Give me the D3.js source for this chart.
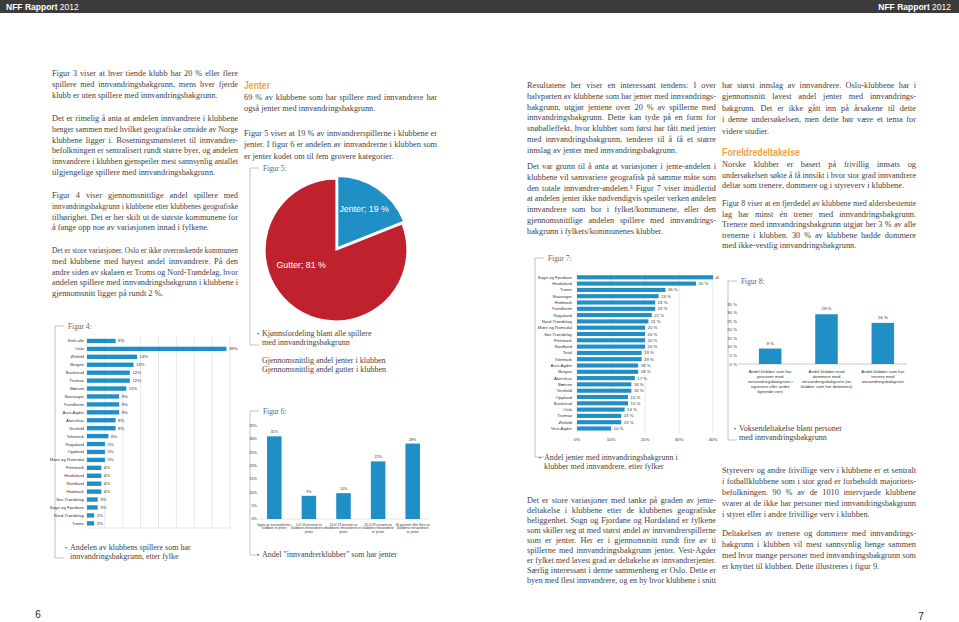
<!DOCTYPE html>
<html>
<head>
<meta charset="utf-8">
<script src="https://cdn.jsdelivr.net/npm/d3@7"></script>
<style>
  body { margin: 0; background: #fff; }
  svg { display: block; }
</style>
</head>
<body>
<svg id="page" width="959" height="622"></svg>
<script>
// ---- chart data ----
const fig4Cats = ["Snitt alle", "Oslo", "Østfold", "Bergen", "Buskerud", "Tromsø", "Bærum", "Stavanger",
  "Trondheim", "Aust-Agder", "Akershus", "Vestfold", "Telemark", "Rogaland", "Oppland", "Møre og Romsdal",
  "Finnmark", "Hordaland", "Nordland", "Hedmark", "Sør-Trøndelag", "Sogn og Fjordane", "Nord-Trøndelag", "Troms"];
const fig4Vals = [8, 39, 14, 13, 12, 12, 11, 9, 9, 9, 8, 8, 6, 5, 5, 5, 4, 4, 4, 4, 3, 3, 2, 2];
const fig4Grid = [0, 5, 10, 15, 20, 25, 30, 35, 40];

const pieLabels = ["Jenter", "Gutter"];
const pieVals = [19, 81];

const fig6Cats = [
  ["Ingen av innvandrerne i", "klubben er jenter"],
  ["1 til 10 prosent av", "klubbens innvandrere er", "jenter"],
  ["10 til 19 prosent av", "klubbens innvandrere er", "jenter"],
  ["20 til 29 prosent av", "klubbens innvandrere", "er jenter"],
  ["30 prosent eller flere av", "klubbens innvandrere", "er jenter"]
];
const fig6Vals = [31, 8.7, 9.7, 21.6, 28.3];
const fig6Ticks = [0, 5, 10, 15, 20, 25, 30, 35];

const fig7Cats = ["Sogn og Fjordane", "Hordaland", "Troms", "Stavanger", "Hedmark", "Trondheim", "Rogaland",
  "Nord-Trøndelag", "Møre og Romsdal", "Sør-Trøndelag", "Finnmark", "Nordland", "Total", "Telemark",
  "Aust-Agder", "Bergen", "Akershus", "Bærum", "Vestfold", "Oppland", "Buskerud", "Oslo", "Tromsø",
  "Østfold", "Vest-Agder"];
const fig7Vals = [40, 35, 26, 24, 23, 23, 22, 21, 20, 20, 20, 20, 19, 19, 18, 18, 17, 16, 16, 15, 15, 14, 13, 13, 10];
const fig7Ticks = [0, 10, 20, 30, 40];

const fig8Cats = [
  ["Andel klubber som har", "personer med", "innvandringsbakgrunn i", "styreverv eller andre", "lignende verv"],
  ["Andel klubber med", "dommere med", "innvandringsbakgrunn (av", "klubber som har dommere)"],
  ["Andel klubber som har", "trenere med", "innvandringsbakgrunn"]
];
const fig8Vals = [9, 29, 24];
const fig8Ticks = [0, 5, 10, 15, 20, 25, 30, 35];

// ---- body text ----
const col1 = [
  ["Figur 3 viser at hver tiende klubb har 20 % eller flere",
   "spillere med innvandringsbakgrunn, mens hver fjerde",
   "klubb er uten spillere med innvandringsbakgrunn."],
  ["Det er rimelig å anta at andelen innvandrere i klubbene",
   "henger sammen med hvilket geografiske område av Norge",
   "klubbene ligger i. Bosetningsmønsteret til innvandrer-",
   "befolkningen er sentralisert rundt større byer, og andelen",
   "innvandrere i klubben gjenspeiler mest sannsynlig antallet",
   "tilgjengelige spillere med innvandringsbakgrunn."],
  ["Figur 4 viser gjennomsnittlige andel spillere med",
   "innvandringsbakgrunn i klubbene etter klubbenes geografiske",
   "tilhørighet. Det er her skilt ut de største kommunene for",
   "å fange opp noe av variasjonen innad i fylkene."],
  ["Det er store variasjoner. Oslo er ikke overraskende kommunen",
   "med klubbene med høyest andel innvandrere. På den",
   "andre siden av skalaen er Troms og Nord-Trøndelag, hvor",
   "andelen spillere med innvandringsbakgrunn i klubbene i",
   "gjennomsnitt ligger på rundt 2 %."]
];
const col2 = [
  ["69 % av klubbene som har spillere med innvandrere har",
   "også jenter med innvandringsbakgrunn."],
  ["Figur 5 viser at 19 % av innvandrerspillerne i klubbene er",
   "jenter. I figur 6 er andelen av innvandrerne i klubben som",
   "er jenter kodet om til fem grovere kategorier."]
];
const col3 = [
  ["Resultatene her viser en interessant tendens: I over",
   "halvparten av klubbene som har jenter med innvandrings-",
   "bakgrunn, utgjør jentene over 20 % av spillerne med",
   "innvandringsbakgrunn. Dette kan tyde på en form for",
   "snøballeffekt, hvor klubber som først har fått med jenter",
   "med innvandringsbakgrunn, tenderer til å få et større",
   "innslag av jenter med innvandringsbakgrunn."],
  ["Det var grunn til å anta at variasjoner i jente-andelen i",
   "klubbene vil samvariere geografisk på samme måte som",
   "den totale innvandrer-andelen.³ Figur 7 viser imidlertid",
   "at andelen jenter ikke nødvendigvis speiler verken andelen",
   "innvandrere som bor i fylket/kommunene, eller den",
   "gjennomsnittlige andelen spillere med innvandrings-",
   "bakgrunn i fylkets/kommunenes klubber."]
];
const col3b = [
  ["Det er store variasjoner med tanke på graden av jente-",
   "deltakelse i klubbene etter de klubbenes geografiske",
   "beliggenhet. Sogn og Fjordane og Hordaland er fylkene",
   "som skiller seg ut med størst andel av innvandrerspillerne",
   "som er jenter. Her er i gjennomsnitt rundt fire av ti",
   "spillerne med innvandringsbakgrunn jenter. Vest-Agder",
   "er fylket med lavest grad av deltakelse av innvandrerjenter.",
   "Særlig interessant i denne sammenheng er Oslo. Dette er",
   "byen med flest innvandrere, og en by hvor klubbene i snitt"]
];
const col4 = [
  ["har størst innslag av innvandrere. Oslo-klubbene har i",
   "gjennomsnitt lavest andel jenter med innvandrings-",
   "bakgrunn. Det er ikke gått inn på årsakene til dette",
   "i denne undersøkelsen, men dette bør være et tema for",
   "videre studier."]
];
const col4b = [
  ["Norske klubber er basert på frivillig innsats og",
   "undersøkelsen søkte å få innsikt i hvor stor grad innvandrere",
   "deltar som trenere, dommere og i styreverv i klubbene."],
  ["Figur 8 viser at en fjerdedel av klubbene med aldersbestemte",
   "lag har minst én trener med innvandringsbakgrunn.",
   "Trenere med innvandringsbakgrunn utgjør her 3 % av alle",
   "trenerne i klubben. 30 % av klubbene hadde dommere",
   "med ikke-vestlig innvandringsbakgrunn."]
];
const col4c = [
  ["Styreverv og andre frivillige verv i klubbene er et sentralt",
   "i fotballklubbene som i stor grad er forbeholdt majoritets-",
   "befolkningen. 90 % av de 1010 intervjuede klubbene",
   "svarer at de ikke har personer med innvandringsbakgrunn",
   "i styret eller i andre frivillige verv i klubben."],
  ["Deltakelsen av trenere og dommere med innvandrings-",
   "bakgrunn i klubben vil mest sannsynlig henge sammen",
   "med hvor mange personer med innvandringsbakgrunn som",
   "er knyttet til klubben. Dette illustreres i figur 9."]
];

// ---- setup ----
const svg = d3.select("#page");
const serif = "'Liberation Serif', 'DejaVu Serif', serif";
const sans = "'Liberation Sans', Arial, sans-serif";
const BLUE = "#1f8fc6", RED = "#c0222d", ORANGE = "#f2a33a", INK = "#3f3f3f";

// justified paragraph lines
function para(x, y0, w, lines, lh) {
  lines.forEach((s, i) => {
    const t = svg.append("text")
      .attr("x", x).attr("y", y0 + i * lh + 2.9)
      .attr("font-family", serif).attr("font-size", 8.3).attr("fill", INK)
      .text(s);
    const len = t.node().getComputedTextLength();
    const last = i === lines.length - 1;
    if (len > w) {
      t.attr("textLength", w).attr("lengthAdjust", "spacingAndGlyphs");
    } else if (!last) {
      const n = (s.match(/ /g) || []).length;
      if (n) t.attr("word-spacing", (w - len) / n);
    }
  });
}

function paras(x, starts, w, list, lh) {
  list.forEach((p, i) => para(x, starts[i], w, p, lh));
}

function heading(x, y, s, w) {
  svg.append("text").attr("x", x).attr("y", y + 3.6)
    .attr("font-family", sans).attr("font-weight", "bold").attr("font-size", 10)
    .attr("fill", ORANGE).attr("textLength", w).attr("lengthAdjust", "spacingAndGlyphs")
    .text(s);
}

function bracket(x, yTop, yBot, label) {
  svg.append("path")
    .attr("d", `M${x + 9},${yTop}H${x}V${yBot}H${x + 9}`)
    .attr("fill", "none").attr("stroke", "#9a9a9a").attr("stroke-width", 0.6);
  svg.append("text").attr("x", x + 13).attr("y", yTop + 2.5)
    .attr("font-family", serif).attr("font-size", 7.4).attr("fill", "#666").text(label);
}

function caption(x, y, lines, bullet = true) {
  lines.forEach((s, i) => {
    svg.append("text").attr("x", x + 4).attr("y", y + i * 9 + 2.8)
      .attr("font-family", serif).attr("font-size", 8).attr("fill", INK).text(s);
  });
  if (bullet) svg.append("text").attr("x", x - 1).attr("y", y + 2.8)
    .attr("font-family", serif).attr("font-size", 6).attr("fill", INK).text("•");
}

// ---- header and page numbers ----
svg.append("rect").attr("x", 0).attr("y", 0).attr("width", 959).attr("height", 13).attr("fill", "#3b3b3b");
[[6, "start"], [951, "end"]].forEach(([x, a]) => {
  const t = svg.append("text").attr("x", x).attr("y", 9.6).attr("text-anchor", a)
    .attr("font-family", sans).attr("font-size", 8.5).attr("fill", "#fff");
  t.append("tspan").attr("font-weight", "bold").text("NFF Rapport");
  t.append("tspan").text(" 2012");
});
svg.append("text").attr("x", 38).attr("y", 618).attr("text-anchor", "middle")
  .attr("font-family", sans).attr("font-size", 10).attr("fill", "#222").text("6");
svg.append("text").attr("x", 921).attr("y", 620).attr("text-anchor", "middle")
  .attr("font-family", sans).attr("font-size", 10).attr("fill", "#222").text("7");

// ---- text columns ----
paras(52, [73, 118, 195, 250], 186, col1, 10.8);
heading(244, 85, "Jenter", 26);
paras(244, [97, 133], 193, col2, 11.5);
paras(527, [85, 166], 189, col3, 10.8);
paras(527, [500], 189, col3b, 10);
paras(722, [85], 194, col4, 11.4);
heading(722, 152, "Foreldredeltakelse", 78);
paras(722, [164, 203], 194, col4b, 10.6);
paras(722, [470, 533], 194, col4c, 11);

// ---- Figur 4 ----
bracket(55, 326, 558, "Figur 4:");
const x4 = d3.scaleLinear().domain([0, 40]).range([87, 230]);
const y4 = d3.scaleBand().domain(fig4Cats).range([337.0, 527.3]).paddingInner(0.45).paddingOuter(0.225);
svg.append("g").selectAll("line").data(fig4Grid).join("line")
  .attr("x1", d => x4(d)).attr("x2", d => x4(d)).attr("y1", 337).attr("y2", 528)
  .attr("stroke", "#cfcfcf").attr("stroke-width", 0.5);
svg.append("line").attr("x1", x4(0)).attr("x2", x4(40)).attr("y1", 528).attr("y2", 528)
  .attr("stroke", "#cfcfcf").attr("stroke-width", 0.5);
svg.append("g").selectAll("rect").data(fig4Cats).join("rect")
  .attr("x", x4(0)).attr("y", d => y4(d)).attr("height", y4.bandwidth())
  .attr("width", (d, i) => x4(fig4Vals[i]) - x4(0)).attr("fill", BLUE);
svg.append("g").selectAll("text").data(fig4Cats).join("text")
  .attr("x", x4(0) - 3).attr("y", d => y4(d) + y4.bandwidth() / 2 + 1.5)
  .attr("text-anchor", "end").attr("font-family", sans).attr("font-size", 4.3).attr("fill", "#333")
  .text(d => d);
svg.append("g").selectAll("text").data(fig4Vals).join("text")
  .attr("x", d => x4(d) + 2.5).attr("y", (d, i) => y4(fig4Cats[i]) + y4.bandwidth() / 2 + 1.5)
  .attr("font-family", sans).attr("font-size", 4.3).attr("fill", "#333")
  .text(d => d + "%");
caption(66, 547, ["Andelen av klubbens spillere som har", "innvandringsbakgrunn, etter fylke"]);

// ---- Figur 5 (pie) ----
bracket(250, 168, 345, "Figur 5:");
const cx = 336, cy = 250, R = 71;
const pie = d3.pie().sort(null)(pieVals);
const arc = d3.arc().innerRadius(0).outerRadius(R);
const pg = svg.append("g").attr("transform", `translate(${cx},${cy})`);
pg.selectAll("path").data(pie).join("path")
  .attr("d", arc)
  .attr("transform", (d, i) => {
    if (i !== 0) return null;
    const a = (d.startAngle + d.endAngle) / 2;
    return `translate(${Math.sin(a) * 3},${-Math.cos(a) * 3})`;
  })
  .attr("fill", (d, i) => i === 0 ? BLUE : RED)
  .attr("stroke", "#fff").attr("stroke-width", 1.2);
const labelPos = [{ f: 0.5, r: 50 }, { f: 0.61, r: 38 }];
pg.selectAll("text").data(pie).join("text")
  .attr("x", (d, i) => Math.sin(d.startAngle + (d.endAngle - d.startAngle) * labelPos[i].f) * labelPos[i].r)
  .attr("y", (d, i) => -Math.cos(d.startAngle + (d.endAngle - d.startAngle) * labelPos[i].f) * labelPos[i].r + 3)
  .attr("text-anchor", "middle").attr("font-family", sans).attr("font-size", 8.8).attr("fill", "#fff")
  .text((d, i) => `${pieLabels[i]}; ${pieVals[i]} %`);
caption(258, 333, ["Kjønnsfordeling blant alle spillere", "med innvandringsbakgrunn"]);
caption(258, 360, ["Gjennomsnittlig andel jenter i klubben", "Gjennomsnittlig andel gutter i klubben"], false);

// ---- Figur 6 ----
bracket(250, 411, 555, "Figur 6:");
const x6 = d3.scaleBand().domain(d3.range(fig6Vals.length)).range([257, 430]).paddingInner(0.58).paddingOuter(0.29);
const y6 = d3.scaleLinear().domain([0, 35]).range([519, 425.7]);
svg.append("line").attr("x1", 257).attr("x2", 430).attr("y1", y6(0)).attr("y2", y6(0))
  .attr("stroke", "#c8c8c8").attr("stroke-width", 0.5);
svg.append("g").selectAll("text").data(fig6Ticks).join("text")
  .attr("x", 257).attr("y", d => y6(d) + 1.3).attr("text-anchor", "end")
  .attr("font-family", sans).attr("font-size", 3.8).attr("fill", "#333").text(d => d + "%");
svg.append("g").selectAll("rect").data(fig6Vals).join("rect")
  .attr("x", (d, i) => x6(i)).attr("width", x6.bandwidth())
  .attr("y", d => y6(d)).attr("height", d => y6(0) - y6(d)).attr("fill", BLUE);
svg.append("g").selectAll("text").data(fig6Vals).join("text")
  .attr("x", (d, i) => x6(i) + x6.bandwidth() / 2).attr("y", d => y6(d) - 3)
  .attr("text-anchor", "middle").attr("font-family", sans).attr("font-size", 3.6).attr("fill", "#333")
  .text(d => Math.round(d) + "%");
fig6Cats.forEach((lines, i) => {
  lines.forEach((s, j) => {
    svg.append("text").attr("x", x6(i) + x6.bandwidth() / 2).attr("y", 525.5 + j * 3.7)
      .attr("text-anchor", "middle").attr("font-family", sans).attr("font-size", 3.3).attr("fill", "#333").text(s);
  });
});
caption(258, 554, ["Andel \"innvandrerklubber\" som har jenter"]);

// ---- Figur 7 ----
bracket(535, 258, 457, "Figur 7:");
const x7 = d3.scaleLinear().domain([0, 40]).range([577, 713]);
const y7 = d3.scaleBand().domain(fig7Cats).range([274.15, 431.65]).paddingInner(0.35).paddingOuter(0.175);
svg.append("g").selectAll("line").data(fig7Ticks).join("line")
  .attr("x1", d => x7(d)).attr("x2", d => x7(d)).attr("y1", 272).attr("y2", 433)
  .attr("stroke", "#cfcfcf").attr("stroke-width", 0.5);
svg.append("g").selectAll("text").data(fig7Ticks).join("text")
  .attr("x", d => x7(d)).attr("y", 440.5).attr("text-anchor", "middle")
  .attr("font-family", sans).attr("font-size", 4.3).attr("fill", "#333").text(d => d + "%");
svg.append("g").selectAll("rect").data(fig7Cats).join("rect")
  .attr("x", x7(0)).attr("y", d => y7(d)).attr("height", y7.bandwidth())
  .attr("width", (d, i) => x7(fig7Vals[i]) - x7(0)).attr("fill", BLUE);
svg.append("g").selectAll("text").data(fig7Cats).join("text")
  .attr("x", x7(0) - 5).attr("y", d => y7(d) + y7.bandwidth() / 2 + 1.5)
  .attr("text-anchor", "end").attr("font-family", sans).attr("font-size", 4.3).attr("fill", "#333")
  .text(d => d);
svg.append("clipPath").attr("id", "c7").append("rect").attr("x", 560).attr("y", 260).attr("width", 159).attr("height", 200);
svg.append("g").attr("clip-path", "url(#c7)").selectAll("text").data(fig7Vals).join("text")
  .attr("x", d => x7(d) + 2.5).attr("y", (d, i) => y7(fig7Cats[i]) + y7.bandwidth() / 2 + 1.5)
  .attr("font-family", sans).attr("font-size", 4.3).attr("fill", "#333")
  .text(d => d + " %");
caption(540, 457, ["Andel jenter med innvandringsbakgrunn i", "klubber med innvandrere, etter fylker"]);

// ---- Figur 8 ----
bracket(728, 281, 440, "Figur 8:");
const x8 = d3.scaleBand().domain(d3.range(fig8Vals.length)).range([742, 911]).paddingInner(0.6).paddingOuter(0.3);
const y8 = d3.scaleLinear().domain([0, 35]).range([364, 304]);
svg.append("line").attr("x1", 738).attr("x2", 907).attr("y1", y8(0)).attr("y2", y8(0))
  .attr("stroke", "#8c8c8c").attr("stroke-width", 0.5);
svg.append("g").selectAll("text").data(fig8Ticks).join("text")
  .attr("x", 737).attr("y", d => y8(d) + 1.5).attr("text-anchor", "end")
  .attr("font-family", sans).attr("font-size", 4.3).attr("fill", "#333").text(d => d + " %");
svg.append("g").selectAll("rect").data(fig8Vals).join("rect")
  .attr("x", (d, i) => x8(i)).attr("width", x8.bandwidth())
  .attr("y", d => y8(d)).attr("height", d => y8(0) - y8(d)).attr("fill", BLUE);
svg.append("g").selectAll("text").data(fig8Vals).join("text")
  .attr("x", (d, i) => x8(i) + x8.bandwidth() / 2).attr("y", d => y8(d) - 4)
  .attr("text-anchor", "middle").attr("font-family", sans).attr("font-size", 4.3).attr("fill", "#333")
  .text(d => d + " %");
fig8Cats.forEach((lines, i) => {
  lines.forEach((s, j) => {
    svg.append("text").attr("x", x8(i) + x8.bandwidth() / 2).attr("y", 373 + j * 5)
      .attr("text-anchor", "middle").attr("font-family", sans).attr("font-size", 4.3).attr("fill", "#333").text(s);
  });
});
caption(735, 428, ["Voksendeltakelse blant personer", "med innvandringsbakgrunn"]);
</script>
</body>
</html>
